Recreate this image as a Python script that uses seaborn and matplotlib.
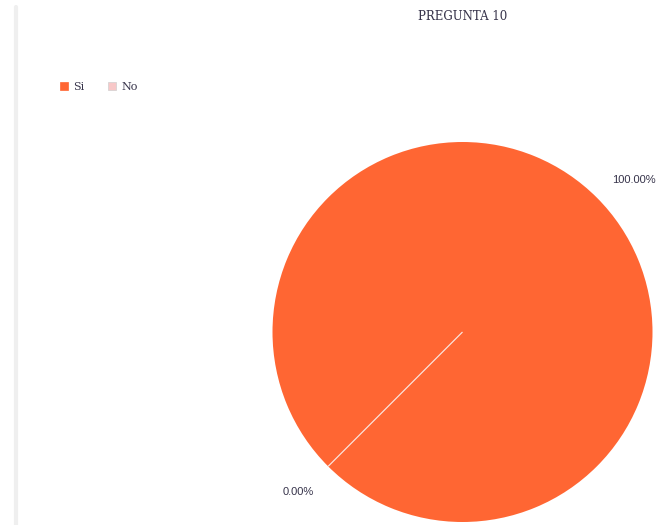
import matplotlib
matplotlib.use("Agg")
import numpy as np
import matplotlib.pyplot as plt
from matplotlib.patches import Patch
from matplotlib.lines import Line2D
import seaborn as sns

# Survey answers for question 10
categories = ["Si", "No"]
shares = [100.0, 0.0]
slice_colors = ["#FF6633", "#F8C8C8"]
title_text = "PREGUNTA 10"

sns.set_theme(style="white")
text_color = "#36334a"

fig = plt.figure(figsize=(6.57, 5.25), dpi=100)
fig.patch.set_facecolor("white")

# thin grey rule along the left margin
fig.add_artist(Line2D([15.5 / 657, 15.5 / 657], [0, 1 - 7 / 525],
                      transform=fig.transFigure, color="#efefef", lw=3))

ax = fig.add_axes([272.5 / 657, 3 / 525, 380 / 657, 380 / 525])
wedges, _, pct_texts = ax.pie(
    shares,
    colors=slice_colors,
    startangle=225,
    counterclock=False,
    autopct=lambda p: f"{p:.2f}%",
    pctdistance=1.205,
    wedgeprops=dict(edgecolor="#fbe3dc", linewidth=0.9),
    textprops=dict(color=text_color, fontsize=8, family="Liberation Sans"),
)
# the full slice needs no outline; the empty one shows as a thin divider
wedges[0].set_linewidth(0)

# data labels sit slightly clockwise of the slice mid-angles
for t, deg in zip(pct_texts, [-3.5, -0.8]):
    rot = np.deg2rad(deg)
    x, y = t.get_position()
    t.set_position((x * np.cos(rot) - y * np.sin(rot),
                    x * np.sin(rot) + y * np.cos(rot)))

ax.set_xlim(-1, 1)
ax.set_ylim(-1, 1)
ax.set_aspect("equal")
ax.axis("off")

fig.text(463 / 657, 1 - 16 / 525, title_text, ha="center", va="center",
         fontsize=8.5, family="DejaVu Serif", color=text_color)

handles = [Patch(facecolor=c, edgecolor="#d0d0d0" if i else c, linewidth=0.5)
           for i, c in enumerate(slice_colors)]
leg = fig.legend(handles, categories, loc="center left",
                 bbox_to_anchor=(50 / 657, 1 - 87 / 525), ncol=2,
                 frameon=False, handlelength=0.75, handleheight=0.75,
                 handletextpad=0.45, columnspacing=2.1,
                 prop=dict(family="DejaVu Serif", size=8))
for t in leg.get_texts():
    t.set_color(text_color)

fig.savefig("out.png", dpi=100)
